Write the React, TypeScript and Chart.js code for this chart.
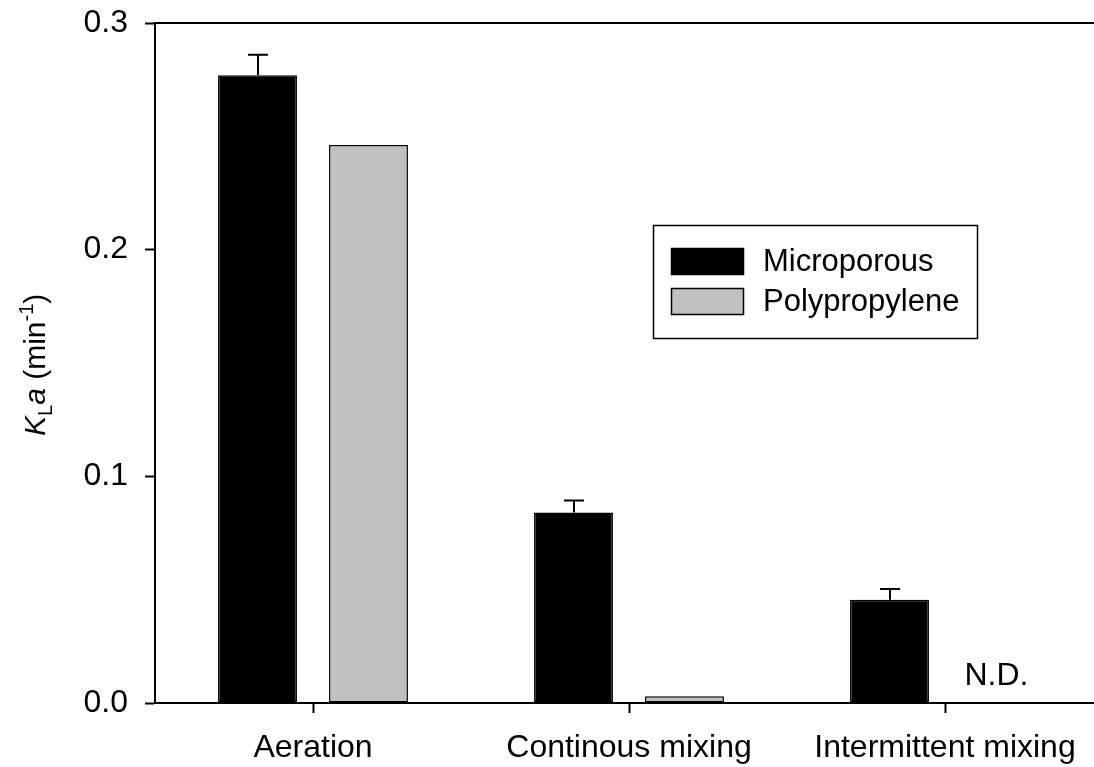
import React, { useEffect, useRef } from "react";
import { Chart, registerables } from "chart.js";

Chart.register(...registerables);

// Categories and series values (KLa, min^-1)
const categories = ["Aeration", "Continous mixing", "Intermittent mixing"];
const seriesNames = ["Microporous", "Polypropylene"];
const microporous = [0.277, 0.084, 0.0455];
const microporousErr = [0.009, 0.0053, 0.0048];
const polypropylene: (number | null)[] = [0.2462, 0.003, null];
const polypropyleneErr = [0, 0, 0];
const notDetectedLabel = "N.D.";
const yMin = 0;
const yMax = 0.3;
const yStep = 0.1;

const FONT = "'Liberation Sans', Arial, Helvetica, sans-serif";
const errors = [microporousErr, polypropyleneErr];

// Upward error bars with caps
const errorBarPlugin = {
  id: "errorBars",
  afterDatasetsDraw(chart: any) {
    const { ctx } = chart;
    const yScale = chart.scales.y;
    ctx.save();
    ctx.strokeStyle = "#000";
    ctx.lineWidth = 2;
    chart.data.datasets.forEach((ds: any, i: number) => {
      const meta = chart.getDatasetMeta(i);
      ds.data.forEach((v: number | null, j: number) => {
        const err = errors[i][j];
        if (v == null || !err) return;
        const el = meta.data[j];
        const x = Math.round(el.x);
        const yTop = yScale.getPixelForValue(v + err);
        const yBar = yScale.getPixelForValue(v);
        ctx.beginPath();
        ctx.moveTo(x, yBar);
        ctx.lineTo(x, yTop);
        ctx.moveTo(x - 10, yTop);
        ctx.lineTo(x + 10, yTop);
        ctx.stroke();
      });
    });
    ctx.restore();
  },
};

// "N.D." marker where a value is missing
const notDetectedPlugin = {
  id: "notDetected",
  afterDatasetsDraw(chart: any) {
    const { ctx } = chart;
    const xScale = chart.scales.x;
    const yScale = chart.scales.y;
    ctx.save();
    ctx.fillStyle = "#000";
    ctx.font = `32px ${FONT}`;
    ctx.textAlign = "center";
    ctx.textBaseline = "alphabetic";
    chart.data.datasets.forEach((ds: any, i: number) => {
      const meta = chart.getDatasetMeta(i);
      ds.data.forEach((v: number | null, j: number) => {
        if (v != null) return;
        let x = meta.data[j] ? meta.data[j].x : NaN;
        if (!isFinite(x)) {
          const ref = meta.data.find((e: any) => isFinite(e.x));
          const idx = meta.data.indexOf(ref);
          x = xScale.getPixelForValue(j) + (ref.x - xScale.getPixelForValue(idx));
        }
        ctx.fillText(notDetectedLabel, x - 4, yScale.getPixelForValue(0) - 18);
      });
    });
    ctx.restore();
  },
};

// Top frame line, boxed legend and the y-axis title with sub/superscripts
const decorPlugin = {
  id: "decor",
  afterDraw(chart: any) {
    const { ctx, chartArea } = chart;
    ctx.save();
    ctx.strokeStyle = "#000";
    ctx.lineWidth = 2;
    ctx.beginPath();
    ctx.moveTo(chartArea.left, chartArea.top);
    ctx.lineTo(chart.width, chartArea.top);
    ctx.stroke();

    // legend
    ctx.lineWidth = 1.5;
    ctx.strokeRect(653.5, 225.5, 324, 113);
    const fills = ["#000000", "#c0c0c0"];
    const rows = [248, 288];
    seriesNames.forEach((name, i) => {
      ctx.fillStyle = fills[i];
      ctx.fillRect(671, rows[i], 73, 27);
      ctx.strokeStyle = "#000";
      ctx.lineWidth = 1.5;
      ctx.strokeRect(671.5, rows[i] + 0.5, 72, 26);
      ctx.fillStyle = "#000";
      ctx.font = `31px ${FONT}`;
      ctx.textAlign = "left";
      ctx.textBaseline = "middle";
      ctx.fillText(name, 763, rows[i] + 14);
    });

    // y-axis title: K_L a (min^-1)
    ctx.translate(45, 436);
    ctx.rotate(-Math.PI / 2);
    ctx.textAlign = "left";
    ctx.textBaseline = "alphabetic";
    let x = 0;
    const part = (text: string, font: string, dy: number) => {
      ctx.font = font;
      ctx.fillText(text, x, dy);
      x += ctx.measureText(text).width;
    };
    part("K", `italic 30px ${FONT}`, 0);
    part("L", `20px ${FONT}`, 7);
    part("a", `italic 30px ${FONT}`, 0);
    part(" (min", `30px ${FONT}`, 0);
    part("-1", `20px ${FONT}`, -12);
    part(")", `30px ${FONT}`, 0);
    ctx.restore();
  },
};

export default function App() {
  const canvasRef = useRef<HTMLCanvasElement | null>(null);

  useEffect(() => {
    if (!canvasRef.current) return;
    const chart = new Chart(canvasRef.current, {
      type: "bar",
      data: {
        labels: categories,
        datasets: [
          {
            label: seriesNames[0],
            data: microporous,
            backgroundColor: "#000000",
            borderColor: "#000000",
            borderWidth: 1.5,
            borderSkipped: false,
            categoryPercentage: 0.7025,
            barPercentage: 0.711,
          },
          {
            label: seriesNames[1],
            data: polypropylene,
            backgroundColor: "#c0c0c0",
            borderColor: "#000000",
            borderWidth: 1.5,
            borderSkipped: false,
            categoryPercentage: 0.7025,
            barPercentage: 0.711,
          },
        ],
      },
      options: {
        animation: false,
        responsive: true,
        maintainAspectRatio: false,
        layout: { padding: { top: 23, right: 7, bottom: 0, left: 0 } },
        plugins: {
          legend: { display: false },
          tooltip: { enabled: false },
        },
        scales: {
          x: {
            offset: true,
            grid: {
              offset: false,
              drawOnChartArea: false,
              drawTicks: true,
              tickLength: 10,
              tickWidth: 2,
              tickColor: "#000",
            },
            border: { display: true, color: "#000", width: 2 },
            ticks: {
              color: "#000",
              padding: 16,
              font: { family: FONT, size: 32 },
              maxRotation: 0,
              autoSkip: false,
            },
            afterFit(scale: any) {
              scale.height = 64;
              scale.paddingLeft = 0;
              scale.paddingRight = 0;
            },
          },
          y: {
            min: yMin,
            max: yMax,
            grid: {
              drawOnChartArea: false,
              drawTicks: true,
              tickLength: 10,
              tickWidth: 2,
              tickColor: "#000",
            },
            border: { display: true, color: "#000", width: 2 },
            ticks: {
              stepSize: yStep,
              color: "#000",
              padding: 17,
              font: { family: FONT, size: 32 },
              callback: (v: any) => Number(v).toFixed(1),
            },
            afterFit(scale: any) {
              scale.width = 155;
              scale.paddingTop = 0;
              scale.paddingBottom = 0;
            },
          },
        },
      },
      plugins: [errorBarPlugin, notDetectedPlugin, decorPlugin],
    });
    return () => chart.destroy();
  }, []);

  return (
    <div
      style={{
        position: "fixed",
        left: 0,
        top: 0,
        width: 1094,
        height: 767,
        overflow: "hidden",
        background: "#fff",
      }}
    >
      <div style={{ position: "relative", width: 1110, height: 767 }}>
        <canvas ref={canvasRef} />
      </div>
    </div>
  );
}
